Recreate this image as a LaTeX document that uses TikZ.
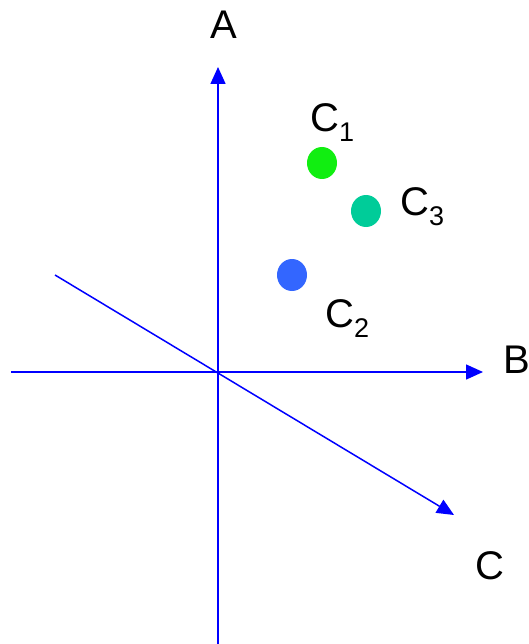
\documentclass[tikz,border=0pt]{standalone}
\usepackage{fontspec}
\setmainfont{Liberation Sans}
\usetikzlibrary{positioning,arrows.meta,shapes.geometric}

\definecolor{ptgreen}{HTML}{11EE11}
\definecolor{ptteal}{HTML}{00CC99}
\definecolor{ptblue}{HTML}{3366FF}
\newcommand{\lbl}[2]{#1\raisebox{-10pt}{\fontsize{27}{30}\selectfont #2}}

\begin{document}
\begin{tikzpicture}[x=1pt,y=-1pt,
  axis/.style={draw=blue,line width=1.5pt,-{Triangle[length=17pt,width=15pt]}},
  pt/.style={ellipse,inner sep=0pt,minimum width=30pt,minimum height=32pt},
  txt/.style={inner sep=0pt,font=\fontsize{40}{48}\selectfont}]
\useasboundingbox (0,0) rectangle (529,644);
% axes
\coordinate (aBot) at (218,644);
\coordinate (aTop) at (218,67);
\coordinate (bL) at (11,372);
\coordinate (bR) at (483,372);
\coordinate (cL) at (55,275);
\coordinate (cR) at (454,515);
\draw[axis] (aBot) -- (aTop);
\draw[axis] (bL) -- (bR);
\draw[axis] (cL) -- (cR);
\node[txt,anchor=base] (labA) at (224,39) {A};
\node[txt,anchor=base west] (labB) at (503,373) {B};
\node[txt,anchor=base west] (labC) at (475,579) {C};
% points
\node[pt,fill=ptgreen] (c1) at (322,163) {};
\node[pt,fill=ptteal] (c3) at (366,211) {};
\node[pt,fill=ptblue] (c2) at (292,275) {};
\node[txt,anchor=base west] (lab1) at (310,132) {\lbl{C}{1}};
\node[txt,anchor=base west] (lab3) at (400,215) {\lbl{C}{3}};
\node[txt,anchor=base west] (lab2) at (325,327) {\lbl{C}{2}};
\end{tikzpicture}
\end{document}
